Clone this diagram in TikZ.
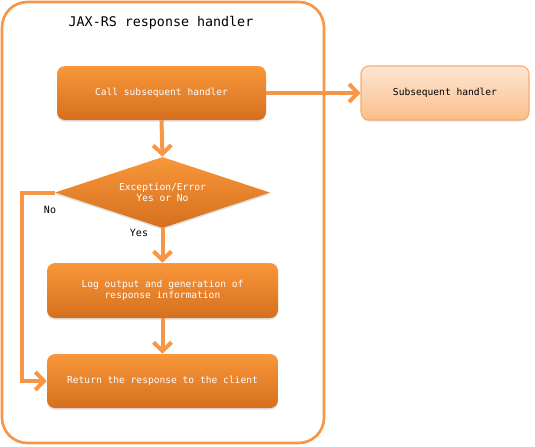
\documentclass[tikz,border=0pt]{standalone}
\usepackage{fontspec}
\setmonofont{DejaVu Sans Mono}
\usetikzlibrary{arrows.meta,shapes.geometric,shadows}
\definecolor{frameor}{HTML}{F79646}
\definecolor{boxtop}{HTML}{F9973A}
\definecolor{boxbot}{HTML}{D56F1E}
\definecolor{subtop}{HTML}{FDE6D4}
\definecolor{subbot}{HTML}{FBBE8A}
\tikzset{
  stepbox/.style={rectangle, rounded corners=6pt, top color=boxtop, bottom color=boxbot,
    draw=none, text=white, font=\ttfamily\fontsize{7.2}{8.6}\selectfont, align=center,
    drop shadow={opacity=0.25, shadow xshift=0pt, shadow yshift=-1.2pt}},
  decision/.style={diamond, aspect=3.03, inner sep=0pt, top color=boxtop, bottom color=boxbot,
    draw=none, text=white, font=\ttfamily\fontsize{7.2}{8.6}\selectfont, align=center,
    drop shadow={opacity=0.25, shadow xshift=0pt, shadow yshift=-1.2pt}},
  subbox/.style={rectangle, rounded corners=6pt, top color=subtop, bottom color=subbot,
    draw=frameor!80, line width=0.8pt, text=black, font=\ttfamily\fontsize{7.2}{8.6}\selectfont,
    drop shadow={opacity=0.2, shadow xshift=0pt, shadow yshift=-1.2pt}},
  flow/.style={draw=frameor, line width=3pt, -{Straight Barb[length=6.5pt,width=13.5pt,line width=3pt]}},
  lbl/.style={font=\ttfamily\fontsize{7.5}{9}\selectfont, text=black},
}
\begin{document}
\begin{tikzpicture}[x=0.75pt, y=-0.75pt]
\useasboundingbox (0,0) rectangle (535,446);
% outer frame
\draw[frameor, line width=2pt, rounded corners=19pt] (2,2) rectangle (324,443);
\node[font=\ttfamily\fontsize{10}{12}\selectfont] (title) at (161,23) {JAX-RS response handler};
% nodes
\node[stepbox, minimum width=209*0.75pt, minimum height=54*0.75pt] (call) at (161.5,93) {Call subsequent handler};
\node[decision, minimum width=215*0.75pt, minimum height=71*0.75pt] (dec) at (162.5,192.5) {Exception/Error\\Yes or No};
\node[stepbox, minimum width=231*0.75pt, minimum height=55*0.75pt] (log) at (162.5,290.5) {Log output and generation of\\response information};
\node[stepbox, minimum width=231*0.75pt, minimum height=54*0.75pt] (ret) at (162.5,381) {Return the response to the client};
\node[subbox, minimum width=168*0.75pt, minimum height=54*0.75pt] (sub) at (445,93) {Subsequent handler};
% labels
\node[lbl] (no) at (50,210) {No};
\node[lbl] (yes) at (139,233) {Yes};
% connectors
\draw[flow] (call.east) -- (sub.west);
\draw[flow] (call.south) -- (dec.north);
\draw[flow] (dec.south) -- (log.north);
\draw[flow] (log.south) -- (ret.north);
\draw[flow] (dec.west) -- ++(-33,0) |- (ret.west);
\end{tikzpicture}
\end{document}
